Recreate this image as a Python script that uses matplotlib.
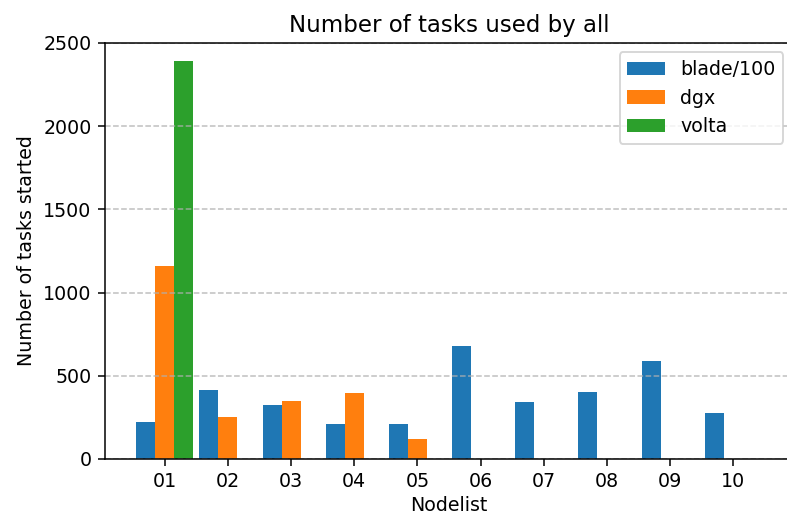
import matplotlib
matplotlib.use("Agg")
import matplotlib.pyplot as plt
import numpy as np

# tasks started per node, one list per partition (0 = node not in partition)
nodes = ["01", "02", "03", "04", "05", "06", "07", "08", "09", "10"]
blade = [221, 416, 323, 209, 209, 679, 345, 403, 587, 277]   # already divided by 100
dgx = [1158, 255, 347, 394, 119, 0, 0, 0, 0, 0]
volta = [2390, 0, 0, 0, 0, 0, 0, 0, 0, 0]
series_labels = ["blade/100", "dgx", "volta"]

DPI = 137
fig = plt.figure(figsize=(787 / DPI, 516 / DPI), dpi=DPI)
ax = fig.add_axes([0.1334, 0.1105, 0.8742, 0.8062])

x = np.arange(len(nodes))
width = 0.3
for cnt, (vals, label) in enumerate(zip([blade, dgx, volta], series_labels)):
    ax.bar(x + (cnt - 1) * width, vals, width, label=label)

ax.set_xticks(x)
ax.set_xticklabels(nodes)
ax.set_ylim(0, 2500)
ax.yaxis.grid(True, linestyle="--", alpha=0.8)

ax.set_xlabel("Nodelist", labelpad=2.5)
ax.set_ylabel("Number of tasks started")
ax.set_title("Number of tasks used by all")
ax.legend(loc="upper right")

fig.savefig("out.png", dpi=DPI)
